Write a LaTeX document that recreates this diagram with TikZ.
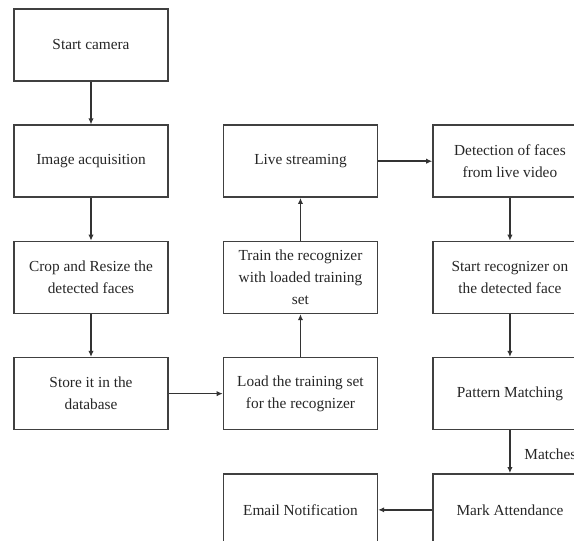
\documentclass[tikz,border=0pt]{standalone}
\usepackage{fontspec}
\setmainfont{Liberation Serif}
\usetikzlibrary{positioning, arrows.meta}
\tikzset{
    stepbox/.style={rectangle, draw=black!75, line width=1.1pt, minimum width=115.5pt, minimum height=54pt, align=center, font=\fontsize{11.5}{16.5}\selectfont, text=black!85},
    flow/.style={-{Latex[length=4.5pt, width=4pt]}, draw=black!80, line width=1.1pt},
}
\begin{document}
\begin{tikzpicture}[node distance=32.06pt and 40.5pt]
            \useasboundingbox (0,0) rectangle (430.5pt,-405.75pt);
            % left column
            \node [stepbox] (cam) at (68.25pt,-33.75pt) {Start camera};
            \node [stepbox] (acq) [below = of cam] {Image acquisition};
            \node [stepbox] (crop) [below = of acq] {Crop and Resize the\\detected faces};
            \node [stepbox] (store) [below = of crop] {Store it in the\\database};
            % middle column
            \node [stepbox] (load) [right = of store] {Load the training set\\for the recognizer};
            \node [stepbox] (train) [above = of load] {Train the recognizer\\with loaded training\\set};
            \node [stepbox] (live) [above = of train] {Live streaming};
            % right column
            \node [stepbox] (detect) [right = of live] {Detection of faces\\from live video};
            \node [stepbox] (startrec) [below = of detect] {Start recognizer on\\the detected face};
            \node [stepbox] (pattern) [below = of startrec] {Pattern Matching};
            \node [stepbox] (mark) [below = of pattern] {Mark Attendance};
            \node [stepbox] (email) [left = of mark] {Email Notification};
            \draw[flow] (cam) -- (acq);
            \draw[flow] (acq) -- (crop);
            \draw[flow] (crop) -- (store);
            \draw[flow] (store) -- (load);
            \draw[flow] (load) -- (train);
            \draw[flow] (train) -- (live);
            \draw[flow] (live) -- (detect);
            \draw[flow] (detect) -- (startrec);
            \draw[flow] (startrec) -- (pattern);
            \draw[flow] (pattern) -- node[right, pos=0.55, xshift=7pt, font=\fontsize{11.5}{16.5}\selectfont, text=black!85] (matchlbl) {Matches} (mark);
            \draw[flow] (mark) -- (email);
        \end{tikzpicture}
\end{document}
